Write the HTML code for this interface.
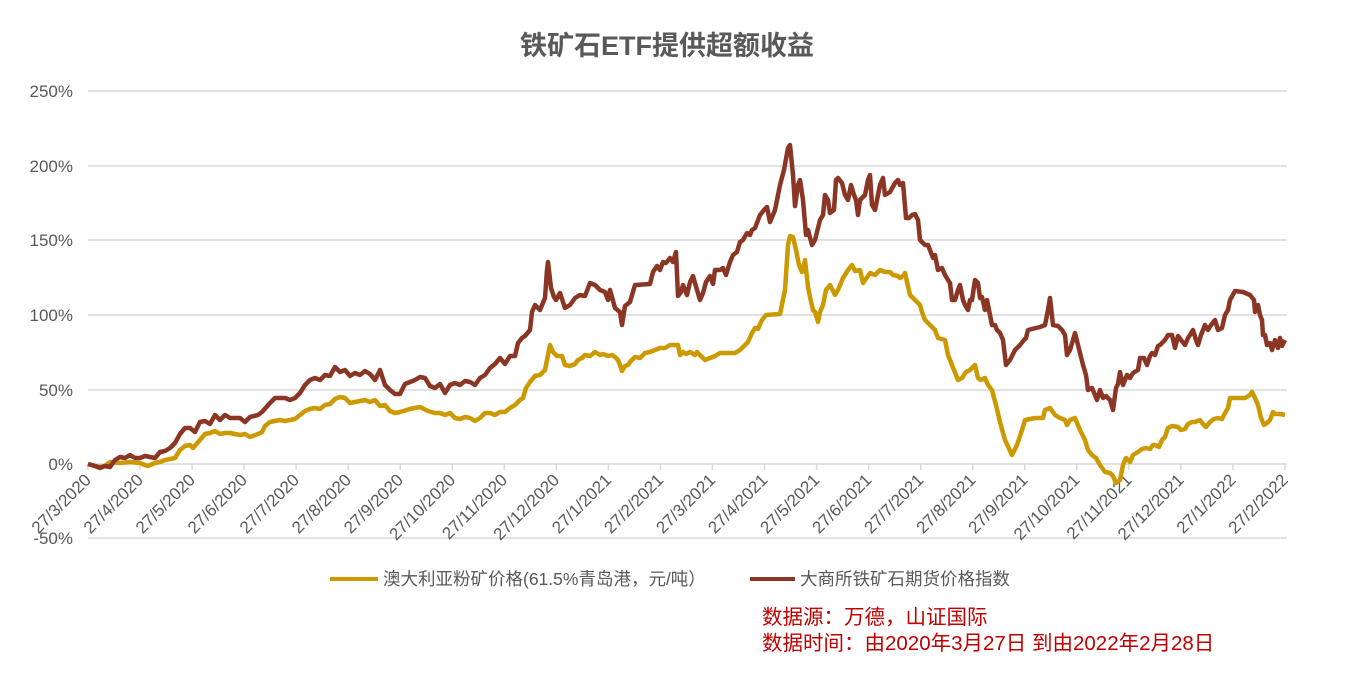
<!DOCTYPE html>
<html><head><meta charset="utf-8"><style>
body{margin:0;background:#fff;width:1348px;height:674px;overflow:hidden;font-family:"Liberation Sans","Noto Sans CJK SC",sans-serif;}
</style></head><body>
<svg width="1348" height="674" viewBox="0 0 1348 674" xmlns="http://www.w3.org/2000/svg" font-family="Liberation Sans, Noto Sans CJK SC, sans-serif">
<text x="667" y="55" text-anchor="middle" font-size="27" font-weight="bold" fill="#595959">铁矿石ETF提供超额收益</text>
<g stroke="#d9d9d9" stroke-width="1.5">
<line x1="88" x2="1287" y1="91" y2="91"/><line x1="88" x2="1287" y1="166" y2="166"/><line x1="88" x2="1287" y1="240" y2="240"/><line x1="88" x2="1287" y1="315" y2="315"/><line x1="88" x2="1287" y1="390" y2="390"/><line x1="88" x2="1287" y1="464" y2="464"/><line x1="88" x2="1287" y1="538" y2="538"/>
</g>
<g fill="#595959" font-size="17" text-anchor="end">
<text x="73" y="97">250%</text><text x="73" y="172">200%</text><text x="73" y="246">150%</text><text x="73" y="321">100%</text><text x="73" y="396">50%</text><text x="73" y="470">0%</text><text x="73" y="544">-50%</text>
</g>
<g id="ticks" stroke="#d9d9d9" stroke-width="1.5"></g>
<g id="xl" fill="#595959" font-size="17" text-anchor="end"></g>
<polyline fill="none" stroke="#CC9900" stroke-width="4.5" stroke-linejoin="round" points="88,464 95,466 100,467 105,466 110,462 120,463 130,462 140,463 145,465 148,466 155,463 160,462 165,460 175,458 180,450 185,446 190,445 193,448 200,440 205,434 210,433 215,431 220,434 225,433 230,433 235,434 240,435 245,434 250,437 258,434 262,432 265,426 270,422 275,421 280,420 285,421 290,420 295,419 300,415 305,411 310,409 315,408 320,409 325,405 330,404 335,399 340,397 345,398 350,403 355,402 360,401 365,400 370,402 375,400 380,406 385,405 390,411 395,413 400,412 410,409 415,408 420,407 428,411 435,413 440,413 445,415 450,413 455,418 460,419 465,417 470,418 475,421 480,418 485,413 490,413 495,415 500,412 505,412 510,408 515,405 520,400 523,398 526,388 530,382 535,376 540,375 545,370 548,355 550,345 553,352 557,356 562,356 565,365 570,366 575,364 578,360 582,358 585,355 590,356 595,352 600,355 603,354 608,356 612,355 615,357 618,360 620,365 622,371 625,366 628,365 630,362 635,357 640,358 645,353 650,352 655,350 660,348 665,348 670,345 678,345 680,355 683,352 686,354 690,352 695,355 697,352 700,355 705,360 710,358 715,356 720,353 735,353 740,350 745,345 748,342 752,333 755,328 758,329 762,320 766,315 780,314 785,290 788,245 790,236 793,237 796,250 799,265 802,272 805,260 808,287 810,297 813,310 815,312 818,322 820,312 823,305 826,290 830,285 835,295 838,290 843,278 848,270 852,265 855,271 860,270 863,283 870,273 875,275 880,270 885,272 890,272 893,275 898,276 900,278 903,276 905,273 910,295 915,300 920,305 922,312 925,320 930,325 935,330 938,338 945,340 948,355 952,365 958,380 962,378 966,372 970,370 975,365 978,378 981,380 985,378 988,385 992,390 996,405 1000,422 1005,440 1012,455 1017,445 1022,430 1025,420 1035,418 1043,418 1045,410 1050,408 1055,415 1060,418 1065,420 1067,425 1070,420 1075,418 1080,430 1085,440 1088,450 1092,455 1096,458 1100,465 1105,472 1110,473 1113,476 1116,483 1120,480 1123,465 1126,458 1130,462 1133,455 1138,452 1142,449 1146,448 1150,449 1153,445 1155,445 1159,447 1162,440 1165,437 1168,428 1172,426 1178,427 1181,430 1185,429 1188,424 1192,422 1195,422 1200,420 1203,424 1206,427 1210,422 1214,419 1218,418 1222,419 1225,413 1228,408 1230,398 1245,398 1250,395 1252,392 1255,398 1258,405 1261,418 1264,425 1267,423 1270,420 1273,412 1275,414 1280,414 1285,415"/>
<polyline fill="none" stroke="#8B3525" stroke-width="4.5" stroke-linejoin="round" points="88,464 95,466 100,468 105,466 110,467 115,460 120,457 125,458 130,455 135,458 140,458 145,456 150,457 155,458 160,452 165,451 170,448 175,443 180,434 185,428 190,428 195,432 200,422 205,421 210,424 215,415 220,420 225,415 230,418 240,418 245,422 250,417 258,415 262,412 270,403 275,398 285,398 290,400 295,398 300,393 305,385 310,380 315,378 320,380 325,375 330,376 335,367 340,372 345,370 350,376 355,373 360,375 365,371 370,374 375,380 380,370 385,385 390,390 395,394 400,394 405,384 410,382 415,380 420,377 425,378 430,386 435,388 440,384 445,393 450,385 455,383 460,385 465,381 470,382 475,385 480,378 485,375 490,368 495,364 500,358 505,364 510,356 515,356 518,343 522,338 525,336 530,330 532,312 535,305 540,310 545,298 547,270 548,262 551,288 554,297 556,300 560,293 565,308 570,305 575,298 580,295 585,296 590,283 595,285 600,290 605,292 608,300 610,290 615,308 620,312 622,325 625,306 630,302 635,285 650,284 653,272 657,266 660,270 663,262 666,263 670,258 673,262 676,252 678,296 681,292 683,285 687,295 690,282 693,276 697,290 700,300 703,293 706,282 710,276 713,284 715,270 720,270 723,268 726,275 730,262 733,255 737,252 740,242 743,240 747,233 750,235 752,230 755,228 760,215 764,210 767,207 770,222 775,210 780,185 784,170 788,148 790,145 793,175 795,206 798,185 800,180 803,200 806,235 808,230 812,245 815,240 820,220 823,215 825,195 828,200 830,213 834,210 836,180 838,178 842,183 845,195 848,200 851,185 854,195 856,200 858,215 860,200 862,198 865,195 868,180 870,175 872,205 875,210 878,195 880,185 883,178 885,195 890,192 895,183 898,180 900,185 903,183 906,218 909,218 912,215 915,214 918,220 920,240 922,242 925,245 928,245 930,250 933,258 935,255 938,270 942,268 945,275 948,280 950,283 952,300 955,300 958,290 960,285 963,300 965,305 968,310 970,300 972,300 975,280 978,283 980,298 982,297 985,310 987,300 990,315 992,325 995,325 997,330 1000,333 1003,340 1006,365 1010,360 1015,350 1020,345 1024,340 1026,338 1028,330 1040,327 1045,325 1048,310 1050,298 1053,325 1058,326 1062,330 1065,335 1067,355 1070,350 1073,340 1075,333 1078,345 1083,365 1086,375 1088,390 1092,388 1095,395 1097,400 1100,390 1103,398 1106,396 1110,400 1113,410 1116,388 1118,384 1120,372 1123,385 1127,375 1130,378 1133,373 1138,370 1140,358 1144,358 1147,365 1150,356 1152,353 1155,355 1158,346 1160,345 1165,340 1168,335 1172,335 1175,348 1178,336 1181,340 1185,345 1188,338 1190,335 1193,330 1196,340 1198,345 1201,335 1203,330 1205,325 1208,330 1211,325 1215,320 1218,330 1222,328 1225,315 1228,310 1230,300 1235,291 1243,292 1250,295 1254,300 1255,312 1258,305 1260,315 1262,320 1263,335 1265,335 1267,345 1270,343 1272,350 1275,340 1278,348 1280,338 1282,346 1285,340"/>
<line x1="330" x2="378" y1="579" y2="579" stroke="#CC9900" stroke-width="4"/>
<text x="383" y="585" font-size="17.5" fill="#595959">澳大利亚粉矿价格(61.5%青岛港，元/吨）</text>
<line x1="750" x2="795" y1="579" y2="579" stroke="#8B3525" stroke-width="4"/>
<text x="800" y="585" font-size="17.5" fill="#595959">大商所铁矿石期货价格指数</text>
<text x="762" y="624" font-size="20.5" fill="#C00000">数据源：万德，山证国际</text>
<text x="762" y="650" font-size="20.5" fill="#C00000">数据时间：由2020年3月27日 到由2022年2月28日</text>
</svg>
<script>
var labels=["27/3/2020","27/4/2020","27/5/2020","27/6/2020","27/7/2020","27/8/2020","27/9/2020","27/10/2020","27/11/2020","27/12/2020","27/1/2021","27/2/2021","27/3/2021","27/4/2021","27/5/2021","27/6/2021","27/7/2021","27/8/2021","27/9/2021","27/10/2021","27/11/2021","27/12/2021","27/1/2022","27/2/2022"];
var t=document.getElementById("ticks"),xl=document.getElementById("xl"),ns="http://www.w3.org/2000/svg";
labels.forEach(function(s,i){var x=88+i*52.04;
var l=document.createElementNS(ns,"line");l.setAttribute("x1",x);l.setAttribute("x2",x);l.setAttribute("y1",464);l.setAttribute("y2",470);t.appendChild(l);
var tx=document.createElementNS(ns,"text");tx.setAttribute("x",x+4);tx.setAttribute("y",481);tx.setAttribute("transform","rotate(-45 "+(x+4)+" 481)");tx.textContent=s;xl.appendChild(tx);});
</script>
</body></html>
